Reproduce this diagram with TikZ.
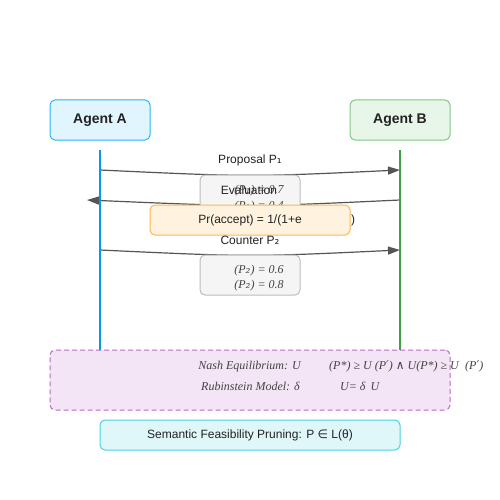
\documentclass[tikz,border=0pt]{standalone}
\usepackage{fontspec}
\setmainfont{Liberation Sans}
\newfontfamily\serifit{Liberation Serif}
\newfontfamily\djs{DejaVu Sans}
\newfontfamily\djserif{DejaVu Serif}
\usetikzlibrary{arrows.meta}
\definecolor{agAfill}{HTML}{E1F5FE}
\definecolor{agAdraw}{HTML}{29B6F6}
\definecolor{agBfill}{HTML}{E8F5E9}
\definecolor{agBdraw}{HTML}{81C784}
\definecolor{lifeA}{HTML}{039BE5}
\definecolor{lifeB}{HTML}{43A047}
\definecolor{msg}{HTML}{555555}
\definecolor{gfill}{HTML}{F5F5F5}
\definecolor{gdraw}{HTML}{BDBDBD}
\definecolor{ofill}{HTML}{FFF3E0}
\definecolor{odraw}{HTML}{FFB74D}
\definecolor{pfill}{HTML}{F3E5F5}
\definecolor{pdraw}{HTML}{BA68C8}
\definecolor{cfill}{HTML}{E0F7FA}
\definecolor{cdraw}{HTML}{4DD0E1}
\definecolor{txt}{HTML}{222222}
\begin{document}
\begin{tikzpicture}[x=1pt,y=-1pt,
  agentbox/.style={rounded corners=5pt,line width=1pt,minimum width=100pt,minimum height=40pt,inner sep=0pt,font=\fontsize{14}{16}\selectfont\bfseries,text=txt},
  lifeline/.style={line width=2pt},
  msgarrow/.style={draw=msg,line width=1.2pt,-{Triangle[length=12pt,width=8pt]},fill=none},
  msglabel/.style={font=\fontsize{12}{14}\selectfont,text=txt,inner sep=0pt},
  notebox/.style={rounded corners=5pt,line width=1pt,inner sep=0pt},
  mathtxt/.style={font=\fontsize{12}{14}\selectfont\serifit\itshape,text=txt!85,inner sep=0pt}
]
\useasboundingbox (0,0) rectangle (500,500);
\fill[white] (0,0) rectangle (500,500);

% agents
\node[agentbox,fill=agAfill,draw=agAdraw] (A) at (100,120) {Agent A};
\node[agentbox,fill=agBfill,draw=agBdraw] (B) at (400,120) {Agent B};

% lifeline coordinates
\coordinate (Atop) at (100,150);
\coordinate (Abot) at (100,350);
\coordinate (Btop) at (400,150);
\coordinate (Bbot) at (400,350);

% message endpoints
\coordinate (a1) at (100,170);
\coordinate (b1) at (400,170);
\coordinate (b2) at (400,200);
\coordinate (a2) at (87,200);
\coordinate (a3) at (100,250);
\coordinate (b3) at (400,250);

% messages
\draw[msgarrow] (a1) .. controls (250,177) .. (b1);
\draw[msgarrow] (b2) .. controls (250,207) .. (a2);
\draw[msgarrow] (a3) .. controls (250,257) .. (b3);

% lifelines
\draw[lifeline,lifeA] (Atop) -- (Abot);
\draw[lifeline,lifeB] (Btop) -- (Bbot);

% labels
\node[msglabel] (l1) at (250,160) {Proposal P{\djs ₁}};

% evaluation box
\node[notebox,fill=gfill,draw=gdraw,minimum width=100pt,minimum height=40pt] (E1) at (250,195) {};
\node[msglabel] (l2) at (249,190.5) {Evaluation};
\node[mathtxt] (e1) at (259,191) {(P{\djserif\itshape ₁}) = 0.7};
\node[mathtxt] (e2) at (259,206.5) {(P{\djserif\itshape ₁}) = 0.4};

% orange box
\node[notebox,fill=ofill,draw=odraw,minimum width=200pt,minimum height=30pt] (O) at (250,220) {};
\node[msglabel] (ot) at (250,220.5) {Pr(accept) = 1/(1+e};
\node[msglabel] (oc) at (353,220.5) {)};

\node[msglabel] (l3) at (250,240.5) {Counter P{\djs ₂}};

% counter box
\node[notebox,fill=gfill,draw=gdraw,minimum width=100pt,minimum height=40pt] (E2) at (250,275) {};
\node[mathtxt] (c1) at (259,270.5) {(P{\djserif\itshape ₂}) = 0.6};
\node[mathtxt] (c2) at (259,286) {(P{\djserif\itshape ₂}) = 0.8};

% game theory box
\node[fill=pfill,draw=pdraw,line width=1pt,dash pattern=on 5pt off 3pt,rounded corners=5pt,minimum width=400pt,minimum height=60pt,inner sep=0pt] (G) at (250,380) {};
\node[mathtxt,anchor=east] (n1) at (301,366.5) {Nash Equilibrium: U};
\node[mathtxt,anchor=west] (n2) at (329,366.5) {(P*) {\serifit ≥} U (P{\djserif\itshape ′}) {\djserif ∧} U(P*) {\serifit ≥} U};
\node[mathtxt,anchor=west] (n3) at (465,366.5) {(P{\djserif\itshape ′})};
\node[mathtxt,anchor=east] (r1) at (300,386) {Rubinstein Model: δ};
\node[mathtxt,anchor=west] (r2) at (340,386) {U= δ\hspace{5pt}U};

% pruning box
\node[notebox,fill=cfill,draw=cdraw,minimum width=300pt,minimum height=30pt,font=\fontsize{12}{14}\selectfont,text=txt] (S) at (250,435) {Semantic Feasibility Pruning: P {\djs ∈} L(θ)};
\end{tikzpicture}
\end{document}
